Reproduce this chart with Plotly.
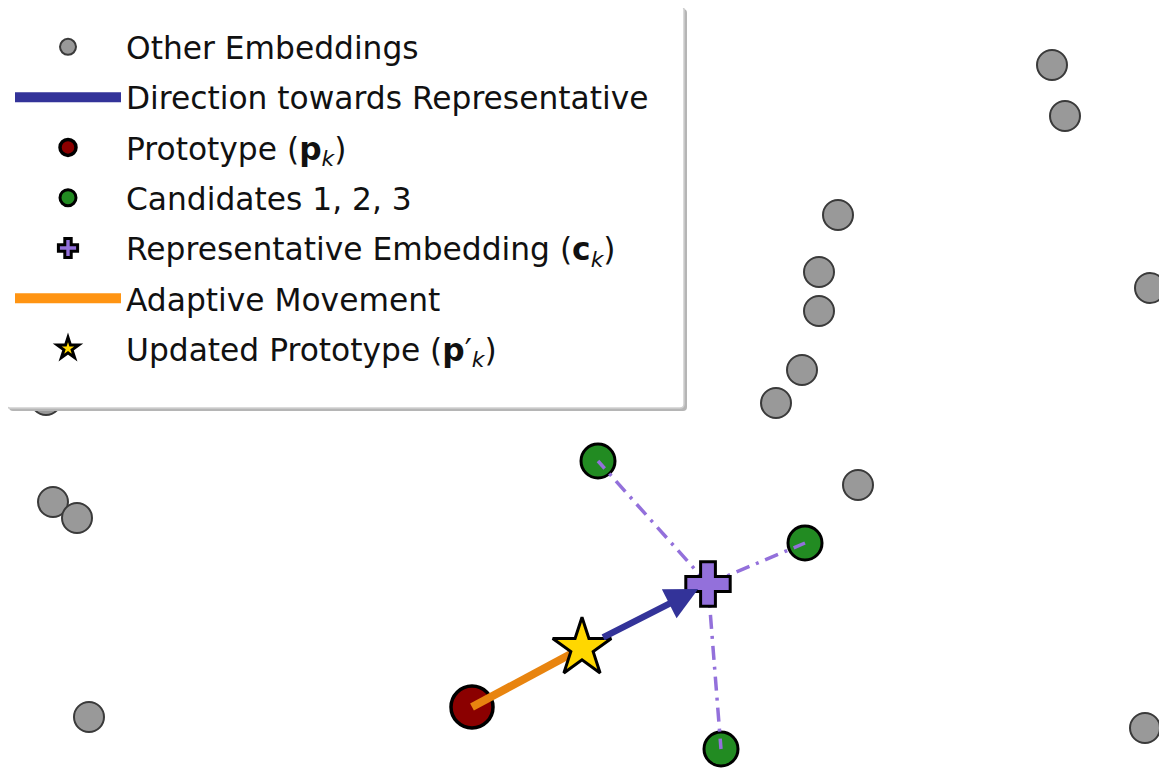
import plotly.graph_objects as go

# ---- data ----
other_x = [10.52, 10.65, 8.38, 8.19, 8.19, 8.02, 7.76, 8.58, 11.50, 11.45, 0.53, 0.77, 0.89, 0.46]
other_y = [7.04, 6.53, 5.54, 4.97, 4.58, 3.99, 3.66, 2.84, 4.81, 0.41, 2.67, 2.51, 0.52, 3.69]

proto_x = [4.72]
proto_y = [0.62]

cand_x = [5.98, 8.05, 7.21]
cand_y = [3.08, 2.26, 0.20]

rep_x = [7.08]
rep_y = [1.85]

upd_x = [5.82]
upd_y = [1.21]

legend_names = [
    "Other Embeddings",
    "Direction towards Representative",
    "Prototype (<b>p</b><sub><i>k</i></sub>)",
    "Candidates 1, 2, 3",
    "Representative Embedding (<b>c</b><sub><i>k</i></sub>)",
    "Adaptive Movement",
    "Updated Prototype (<b>p</b>′<sub><i>k</i></sub>)",
]

x_range = [0.08, 11.67]
y_range = [0.0, 7.61]

NAVY = "#333399"
ORANGE_LINE = "#E8840F"
ORANGE_PATCH = "#FF9412"
PURPLE = "#9370DB"
FONT = "DejaVu Sans"

W, H, OFF = 1159, 761, 8  # page body adds an 8px margin


def xp(px):
    return (px - OFF) / W


def yp(py):
    return 1 - (py - OFF) / H


def rounded_rect(x0, y0, x1, y1, r):
    pts = [
        ("M", [(x0 + r, y0)]), ("L", [(x1 - r, y0)]), ("Q", [(x1, y0), (x1, y0 + r)]),
        ("L", [(x1, y1 - r)]), ("Q", [(x1, y1), (x1 - r, y1)]), ("L", [(x0 + r, y1)]),
        ("Q", [(x0, y1), (x0, y1 - r)]), ("L", [(x0, y0 + r)]), ("Q", [(x0, y0), (x0 + r, y0)]),
    ]
    s = ""
    for cmd, ps in pts:
        s += cmd + " " + " ".join(f"{xp(a):.5f},{yp(b):.5f}" for a, b in ps) + " "
    return s + "Z"


fig = go.Figure()

fig.add_trace(go.Scatter(
    x=other_x, y=other_y, mode="markers", name=legend_names[0],
    marker=dict(size=30, color="#999999", line=dict(color="#3a3a3a", width=2)),
    legendrank=1, legendgroup="g1"))

fig.add_trace(go.Scatter(
    x=[None], y=[None], mode="lines", name=legend_names[1],
    line=dict(color=NAVY, width=10), legendrank=2, legendgroup="g2"))

fig.add_trace(go.Scatter(
    x=proto_x, y=proto_y, mode="markers", name=legend_names[2],
    marker=dict(size=42, color="#8B0000", line=dict(color="black", width=3.5)),
    legendrank=3, legendgroup="g3"))

fig.add_trace(go.Scatter(
    x=cand_x, y=cand_y, mode="markers", name=legend_names[3],
    marker=dict(size=34, color="#228B22", line=dict(color="black", width=3)),
    legendrank=4, legendgroup="g4"))

lx, ly = [], []
for cx, cy in zip(cand_x, cand_y):
    lx += [rep_x[0], cx, None]
    ly += [rep_y[0], cy, None]
fig.add_trace(go.Scatter(
    x=lx, y=ly, mode="lines", showlegend=False, hoverinfo="skip",
    line=dict(color=PURPLE, width=3.5, dash="14px,7px,3px,7px")))

fig.add_trace(go.Scatter(
    x=[proto_x[0], upd_x[0]], y=[proto_y[0], upd_y[0]], mode="lines",
    showlegend=False, line=dict(color=ORANGE_LINE, width=8)))
fig.add_trace(go.Scatter(
    x=[None], y=[None], mode="lines", name=legend_names[5],
    line=dict(color=ORANGE_PATCH, width=10), legendrank=6, legendgroup="g6"))

fig.add_trace(go.Scatter(
    x=upd_x, y=upd_y, mode="markers", name=legend_names[6],
    marker=dict(symbol="star", size=44, color="#FFD700", line=dict(color="black", width=3)),
    legendrank=7, legendgroup="g7"))

fig.add_trace(go.Scatter(
    x=rep_x, y=rep_y, mode="markers", name=legend_names[4],
    marker=dict(symbol="cross", size=37, color=PURPLE, line=dict(color="black", width=3)),
    legendrank=5, legendgroup="g5"))

fig.add_annotation(
    x=rep_x[0], y=rep_y[0], ax=upd_x[0], ay=upd_y[0],
    xref="x", yref="y", axref="x", ayref="y", text="",
    showarrow=True, arrowhead=2, arrowsize=1, arrowwidth=6.5,
    arrowcolor=NAVY, standoff=11, startstandoff=22)

# legend frame with drop shadow
fig.add_shape(type="path", xref="paper", yref="paper", layer="above",
              path=rounded_rect(9, 9, 687, 411, 4),
              fillcolor="#b5b5b5", line=dict(width=0))
fig.add_shape(type="path", xref="paper", yref="paper", layer="above",
              path=rounded_rect(6, 6, 684, 408, 4),
              fillcolor="white", line=dict(color="#cfcfcf", width=1.5))

fig.update_layout(
    width=W, height=H, autosize=False,
    margin=dict(l=0, r=0, t=0, b=0),
    plot_bgcolor="white", paper_bgcolor="white",
    xaxis=dict(range=x_range, visible=False, fixedrange=True),
    yaxis=dict(range=y_range, visible=False, fixedrange=True),
    font=dict(family=FONT, size=31.3, color="#111111"),
    showlegend=True,
    legend=dict(
        x=xp(10), y=yp(20), xanchor="left", yanchor="top",
        bgcolor="rgba(0,0,0,0)", borderwidth=0,
        itemwidth=106, tracegroupgap=6.6, traceorder="grouped",
        font=dict(family=FONT, size=31.3, color="#111111")),
)

fig.write_html("out.html")
